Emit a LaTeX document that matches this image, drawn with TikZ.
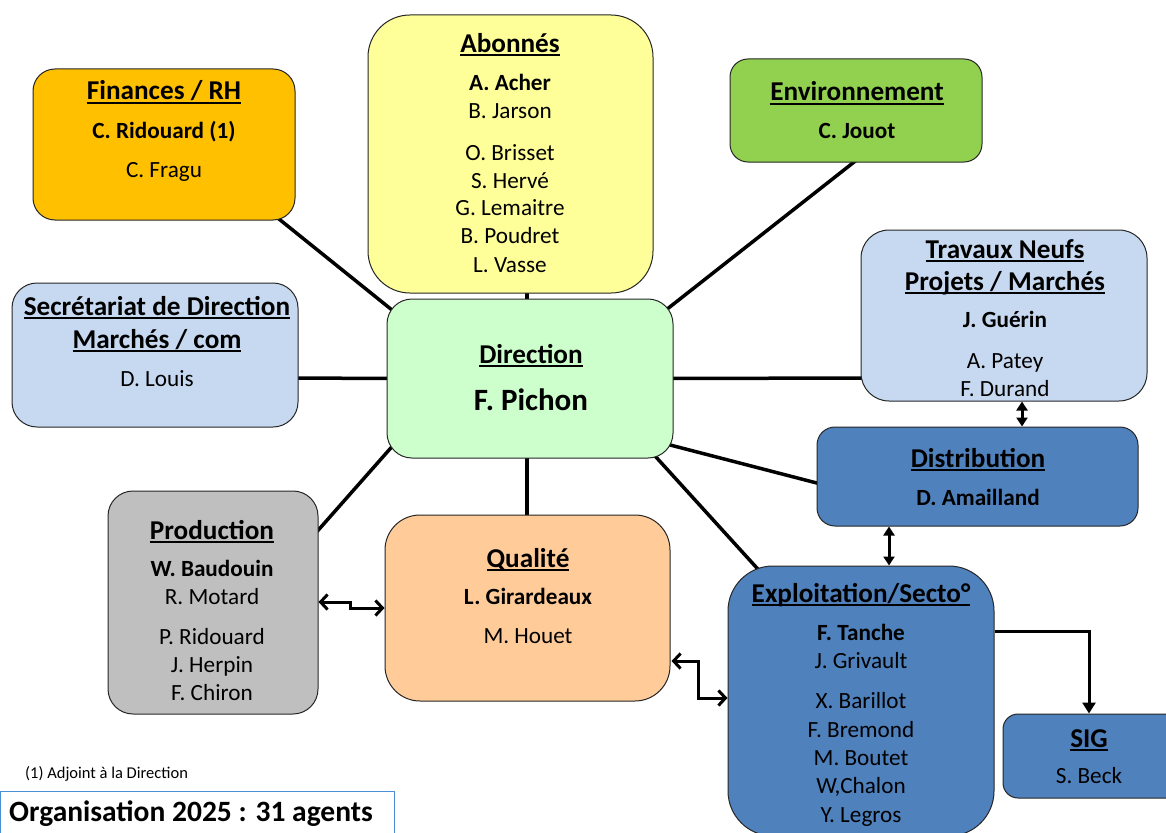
\documentclass[tikz,border=0pt]{standalone}
\usepackage{fontspec}
\setmainfont{Carlito}
\usetikzlibrary{arrows.meta,calc}
\pgfdeclarelayer{background}
\pgfsetlayers{background,main}
\definecolor{cfin}{HTML}{FFC000}
\definecolor{cabo}{HTML}{FFFF99}
\definecolor{cenv}{HTML}{92D050}
\definecolor{clblue}{HTML}{C6D9F0}
\definecolor{cdir}{HTML}{CCFFCC}
\definecolor{cblue}{HTML}{4F81BD}
\definecolor{cprod}{HTML}{BFBFBF}
\definecolor{cqual}{HTML}{FFCC99}
\definecolor{corg}{HTML}{4A8FD6}
\newcommand\ttl[1]{\setbox0=\hbox{#1}\rlap{\rule[-3.5pt]{\wd0}{2pt}}\box0}
\tikzset{
  box/.style={draw=black!85, line width=1pt, rectangle, inner sep=0pt},
  txt/.style={anchor=base, inner sep=0pt, font=\fontsize{23.2}{28}\selectfont},
  btxt/.style={txt, font=\fontsize{23.2}{28}\selectfont\bfseries},
  ttxt/.style={txt, font=\fontsize{27.2}{32}\selectfont\bfseries},
  conn/.style={line width=3.5pt, black},
  oarrow/.style={line width=3pt, {Straight Barb[length=7pt,width=15pt]}-{Straight Barb[length=7pt,width=15pt]}},
  farrow/.style={line width=3pt, {Triangle[length=9pt,width=11pt]}-{Triangle[length=9pt,width=11pt]}},
  sarrow/.style={line width=3pt, -{Triangle[length=11pt,width=13pt]}},
}
\begin{document}
\begin{tikzpicture}[x=1pt,y=-1pt]
\useasboundingbox (0,0) rectangle (1166,832);
% boxes
\node[box, fill=cfin, rounded corners=22pt, minimum width=262pt, minimum height=151pt] (fin) at (164,144.5) {};
\node[box, fill=cabo, rounded corners=42pt, minimum width=285pt, minimum height=278pt] (abo) at (510.5,154) {};
\node[box, fill=cenv, rounded corners=18pt, minimum width=252pt, minimum height=103pt] (env) at (856,110.5) {};
\node[box, fill=clblue, rounded corners=28pt, minimum width=286pt, minimum height=171pt] (trav) at (1004,315.5) {};
\node[box, fill=clblue, rounded corners=25pt, minimum width=286pt, minimum height=144pt] (sec) at (155,355) {};
\node[box, fill=cdir, rounded corners=25pt, minimum width=286pt, minimum height=159pt] (dir) at (530,378.5) {};
\node[box, fill=cblue, rounded corners=18pt, minimum width=321pt, minimum height=99pt] (dist) at (977.5,476.5) {};
\node[box, fill=cprod, rounded corners=25pt, minimum width=210pt, minimum height=223pt] (prod) at (213,602.5) {};
\node[box, fill=cqual, rounded corners=35pt, minimum width=285pt, minimum height=186pt] (qual) at (527.5,608) {};
\node[box, fill=cblue, rounded corners=45pt, minimum width=266pt, minimum height=270pt] (expl) at (861,701) {};
\node[box, fill=cblue, rounded corners=15pt, minimum width=182pt, minimum height=84pt] (sig) at (1094,756) {};
\node[rectangle, draw=corg, line width=1pt, fill=white, inner sep=0pt, minimum width=394pt, minimum height=54pt] (org) at (197,818) {};

% connectors (behind boxes)
\begin{pgfonlayer}{background}
\draw[conn] ([shift={(-21.5,-5.5)}]fin.south east) -- ([shift={(10.5,15.5)}]dir.north west);
\draw[conn] ([shift={(-5,23)}]sec.east) -- ([shift={(5,0)}]dir.west);
\draw[conn] ([shift={(16.5,-5)}]abo.south) -- ([shift={(-3,5)}]dir.north);
\draw[conn] ([shift={(0,-2)}]env.south) -- ([shift={(-12,15)}]dir.north east);
\draw[conn] ([shift={(-5,0)}]dir.east) -- ([shift={(5,62.5)}]trav.west);
\draw[conn] ([shift={(-13,64)}]dir.east) -- ([shift={(8,8.5)}]dist.west);
\draw[conn] ([shift={(-23,-7.5)}]dir.south east) -- ([shift={(33,6.5)}]expl.north west);
\draw[conn] ([shift={(-3,-5)}]dir.south) -- ([shift={(-0.5,5)}]qual.north);
\draw[conn] ([shift={(10,-17)}]dir.south west) -- ([shift={(-5,45)}]prod.north east);
\end{pgfonlayer}

% arrows
\draw[oarrow] ([shift={(0,-0.5)}]prod.east) -- ++(32,0) |- (qual.west);
\draw[oarrow] ([shift={(1,53)}]qual.east) -- ++(27,0) |- ([shift={(0,-3)}]expl.west);
\draw[farrow] ([shift={(18,0)}]trav.south) -- ([shift={(44.5,0)}]dist.north);
\draw[farrow] ([shift={(-88.5,0)}]dist.south) -- ([shift={(28,0)}]expl.north);
\draw[sarrow] ([shift={(0,-70)}]expl.east) -| ([shift={(-5,0)}]sig.north);

% texts
\node[ttxt] (fin1) at (164,100) {\ttl{Finances / RH}};
\node[btxt] (fin2) at (164,138) {C. Ridouard (1)};
\node[txt] (fin3) at (164,177) {C. Fragu};

\node[ttxt] (abo1) at (510,53) {\ttl{Abonnés}};
\node[btxt] (abo2) at (510,91) {A. Acher};
\node[txt] (abo3) at (510,119) {B. Jarson};
\node[txt] (abo4) at (510,160) {O. Brisset};
\node[txt] (abo5) at (510,188) {S. Hervé};
\node[txt] (abo6) at (510,215) {G. Lemaitre};
\node[txt] (abo7) at (510,243) {B. Poudret};
\node[txt] (abo8) at (510,272) {L. Vasse};

\node[ttxt] (env1) at (857,101) {\ttl{Environnement}};
\node[btxt] (env2) at (857,139) {C. Jouot};

\node[ttxt] (trav1) at (1005,258) {\ttl{Travaux Neufs}};
\node[ttxt] (trav2) at (1005,290) {\ttl{Projets / Marchés}};
\node[btxt] (trav3) at (1005,327) {J. Guérin};
\node[txt] (trav4) at (1005,368) {A. Patey};
\node[txt] (trav5) at (1005,396) {F. Durand};

\node[ttxt] (sec1) at (157,315) {\ttl{Secrétariat de Direction}};
\node[ttxt] (sec2) at (157,348) {\ttl{Marchés / com}};
\node[txt] (sec3) at (157,386) {D. Louis};

\node[ttxt] (dir1) at (531,363) {\ttl{Direction}};
\node[txt, font=\fontsize{31}{37}\selectfont\bfseries] (dir2) at (531,410) {F. Pichon};

\node[ttxt] (dist1) at (978,467) {\ttl{Distribution}};
\node[btxt] (dist2) at (978,505) {D. Amailland};

\node[ttxt] (prod1) at (212,539) {\ttl{Production}};
\node[btxt] (prod2) at (212,576) {W. Baudouin};
\node[txt] (prod3) at (212,604) {R. Motard};
\node[txt] (prod4) at (212,644) {P. Ridouard};
\node[txt] (prod5) at (212,672) {J. Herpin};
\node[txt] (prod6) at (212,700) {F. Chiron};

\node[ttxt] (qual1) at (528,567) {\ttl{Qualité}};
\node[btxt] (qual2) at (528,604) {L. Girardeaux};
\node[txt] (qual3) at (528,643) {M. Houet};

\node[ttxt] (expl1) at (861,602) {\ttl{Exploitation/Secto°}};
\node[btxt] (expl2) at (861,640) {F. Tanche};
\node[txt] (expl3) at (861,668) {J. Grivault};
\node[txt] (expl4) at (861,708) {X. Barillot};
\node[txt] (expl5) at (861,737) {F. Bremond};
\node[txt] (expl6) at (861,765) {M. Boutet};
\node[txt] (expl7) at (861,793) {W,Chalon};
\node[txt] (expl8) at (861,822) {Y. Legros};

\node[ttxt] (sig1) at (1089,747) {\ttl{SIG}};
\node[txt] (sig2) at (1089,783) {S. Beck};

\node[txt, anchor=base west, font=\fontsize{16.5}{20}\selectfont] (note) at (25,778) {(1) Adjoint à la Direction};
\node[txt, anchor=base west, font=\fontsize{29.5}{35}\selectfont\bfseries] (orgt) at (9,821) {Organisation 2025 : 31 agents};
\end{tikzpicture}
\end{document}
